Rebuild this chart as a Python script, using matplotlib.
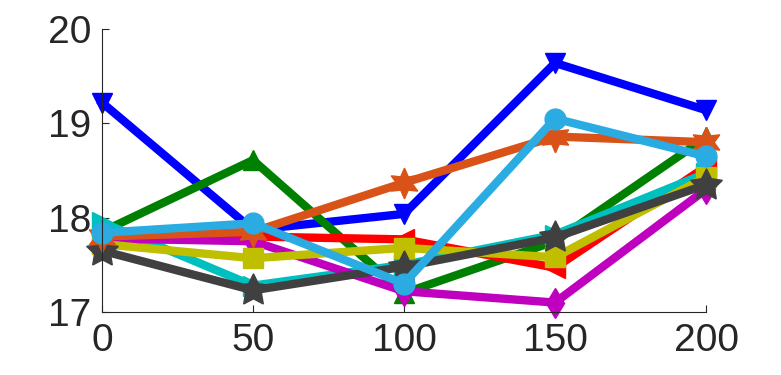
import matplotlib
matplotlib.use("Agg")
import matplotlib.pyplot as plt

x = [0, 50, 100, 150, 200]

blue = [19.22, 17.87, 18.04, 19.64, 19.14]
green = [17.85, 18.61, 17.20, 17.75, 18.85]
red = [17.75, 17.80, 17.77, 17.47, 18.54]
cyan = [17.95, 17.28, 17.50, 17.82, 18.47]
magenta = [17.78, 17.75, 17.22, 17.10, 18.30]
yellow = [17.72, 17.57, 17.68, 17.58, 18.43]
gray = [17.65, 17.23, 17.48, 17.79, 18.35]
orange = [17.80, 17.85, 18.37, 18.86, 18.80]
lightblue = [17.84, 17.94, 17.30, 19.05, 18.65]

series = [
    (blue, "#0000FF", "v", 15),
    (green, "#008000", "^", 15),
    (red, "#FF0000", "<", 15),
    (cyan, "#00BFBF", ">", 15),
    (magenta, "#BF00BF", "d", 15),
    (yellow, "#BFBF00", "s", 14),
    (gray, "#404040", (5, 1, 0), 24),
    (orange, "#D95319", (6, 1, 0), 22),
    (lightblue, "#2AACE2", "o", 15),
]

plt.rcParams["font.family"] = ["Liberation Sans", "DejaVu Sans"]

fig = plt.figure(figsize=(7.81, 3.75), dpi=100)
ax = fig.add_axes([0.1306, 0.168, 0.7734, 0.7547])

for ys, col, mk, ms in series:
    ax.plot(x, ys, color=col, marker=mk, lw=6, ms=ms, clip_on=False)

ax.set_xlim(0, 200)
ax.set_ylim(17, 20)
ax.set_xticks([0, 50, 100, 150, 200])
ax.set_yticks([17, 18, 19, 20])
for s in ("top", "right"):
    ax.spines[s].set_visible(False)
for s in ("left", "bottom"):
    ax.spines[s].set_color("#262626")
ax.tick_params(direction="in", length=5, labelsize=28, colors="#262626", pad=8)

fig.savefig("out.png", dpi=100)
